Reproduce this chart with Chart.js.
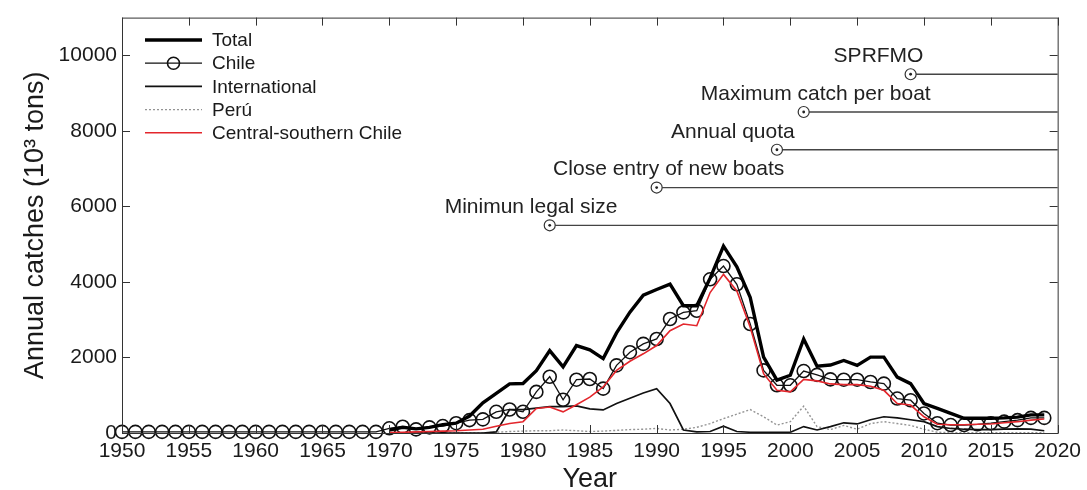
<!DOCTYPE html>
<html><head><meta charset="utf-8">
<script src="https://cdn.jsdelivr.net/npm/chart.js@4.4.1/dist/chart.umd.min.js"></script>
<style>html,body{margin:0;padding:0;background:#fff;}canvas{display:block;}</style>
</head><body>
<canvas id="c" width="1087" height="490"></canvas>
<script>
const years = [1950,1951,1952,1953,1954,1955,1956,1957,1958,1959,
  1960,1961,1962,1963,1964,1965,1966,1967,1968,1969,
  1970,1971,1972,1973,1974,1975,1976,1977,1978,1979,
  1980,1981,1982,1983,1984,1985,1986,1987,1988,1989,
  1990,1991,1992,1993,1994,1995,1996,1997,1998,1999,
  2000,2001,2002,2003,2004,2005,2006,2007,2008,2009,
  2010,2011,2012,2013,2014,2015,2016,2017,2018,2019];

const N20 = [null,null,null,null,null,null,null,null,null,null,null,null,null,null,null,null,null,null,null,null];

const totalCatch = N20.concat([80,150,110,150,220,260,450,800,1050,1300,
  1310,1650,2180,1750,2316,2200,1970,2650,3200,3650,
  3800,3940,3370,3370,4100,4950,4400,3590,2010,1400,
  1530,2490,1770,1800,1920,1790,2008,2008,1480,1307,
  780,650,518,390,390,390,400,420,480,480]);

const chileCatch = [30,30,30,30,30,30,30,30,30,30,30,30,30,30,30,30,30,30,30,30,
  124,167,96,150,184,260,342,360,561,623,
  561,1088,1490,880,1412,1430,1175,1790,2140,2360,
  2490,3018,3193,3237,4070,4421,3939,2886,1658,1263,
  1263,1640,1540,1420,1412,1412,1351,1307,912,868,
  518,260,210,210,230,260,300,340,400,400];

const internationalCatch = N20.concat([0,0,0,0,0,0,0,0,30,620,
  620,660,700,700,720,640,610,780,920,1060,
  1175,780,80,30,40,180,40,20,20,20,
  20,170,80,170,270,240,350,430,400,350,
  300,170,120,100,90,90,100,110,100,60]);

const peruCatch = N20.concat([0,0,0,0,0,0,0,0,20,40,
  50,60,60,80,60,40,50,70,90,100,
  120,80,100,150,250,380,500,620,430,210,
  300,710,170,90,200,100,250,300,250,200,
  100,20,10,10,10,10,10,10,10,10]);

const centralSouthCatch = N20.concat([10,20,30,40,50,60,80,100,180,250,
  300,650,690,560,750,950,1219,1658,1900,2097,
  2316,2710,2886,2840,3720,4200,3763,2800,1570,1130,
  1090,1420,1380,1300,1280,1280,1240,1130,780,740,
  430,230,220,220,230,240,270,300,340,370]);

const eventLabels = ['Minimun legal size','Close entry of new boats','Annual quota','Maximum catch per boat','SPRFMO'];
const eventYears = [1982,1990,1999,2001,2009];
const eventLevels = [5500,6500,7500,8500,9500];
const eventLabelYears = [1980.6,1990.9,1995.7,2001.9,2006.6];

const xTicks = [1950,1955,1960,1965,1970,1975,1980,1985,1990,1995,2000,2005,2010,2015,2020];
const yTicks = [0,2000,4000,6000,8000,10000];

const seriesNames = ['Total','Chile','International','Perú','Central-southern Chile'];

const FONT = "'Liberation Sans', Arial, Helvetica, sans-serif";
const RED = '#e3262c';
const GRAY = '#949494';

function pts(vals){ return years.map((yr,i)=>({x:yr,y:vals[i]})); }

const datasets = [
  {label:seriesNames[4], data:pts(centralSouthCatch), borderColor:RED, borderWidth:1.6, pointRadius:0, order:1},
  {label:seriesNames[0], data:pts(totalCatch), borderColor:'#000', borderWidth:3.4, pointRadius:0, order:2},
  {label:seriesNames[1], data:pts(chileCatch), borderColor:'#111', borderWidth:1.3, pointRadius:6.5,
    pointStyle:'circle', pointBorderColor:'#111', pointBackgroundColor:'rgba(0,0,0,0)', pointBorderWidth:1.6, clip:false, order:3},
  {label:seriesNames[2], data:pts(internationalCatch), borderColor:'#111', borderWidth:1.7, pointRadius:0, order:4},
  {label:seriesNames[3], data:pts(peruCatch), borderColor:GRAY, borderWidth:1.4, borderDash:[2,2], pointRadius:0, order:5}
];
eventYears.forEach((yr,i)=>{
  datasets.push({label:'event'+i, data:[{x:yr,y:eventLevels[i]},{x:2020,y:eventLevels[i]}],
    borderColor:'#444', borderWidth:1.3, pointRadius:(c)=>c.dataIndex===0?5.5:0,
    pointBorderColor:'#333', pointBackgroundColor:'#fff', pointBorderWidth:1.2, clip:false, order:0});
});

const framePlugin = {
  id:'frame',
  afterDraw(chart){
    const {ctx, chartArea:a, scales:{x,y}} = chart;
    ctx.save();
    ctx.strokeStyle = '#333'; ctx.lineWidth = 1;
    ctx.strokeRect(a.left+0.5, a.top+0.5, a.right-a.left, a.bottom-a.top);
    const L = 8;
    ctx.beginPath();
    xTicks.forEach(v=>{
      const px = Math.round(x.getPixelForValue(v))+0.5;
      ctx.moveTo(px,a.bottom); ctx.lineTo(px,a.bottom-L);
      ctx.moveTo(px,a.top); ctx.lineTo(px,a.top+L);
    });
    yTicks.forEach(v=>{
      const py = Math.round(y.getPixelForValue(v))+0.5;
      ctx.moveTo(a.left,py); ctx.lineTo(a.left+L,py);
      ctx.moveTo(a.right,py); ctx.lineTo(a.right-L,py);
    });
    ctx.stroke();

    ctx.fillStyle = '#222';
    eventYears.forEach((yr,i)=>{
      const px = x.getPixelForValue(yr), py = y.getPixelForValue(eventLevels[i]);
      ctx.beginPath(); ctx.arc(px,py,1.4,0,Math.PI*2); ctx.fill();
    });
    ctx.font = '21px ' + FONT;
    ctx.textAlign = 'center'; ctx.textBaseline = 'middle';
    eventLabels.forEach((t,i)=>{
      const px = x.getPixelForValue(eventLabelYears[i]);
      const py = y.getPixelForValue(eventLevels[i]) - 18;
      ctx.fillText(t, px, py);
    });

    const lx0 = 145, lx1 = 202, tx = 212, ty0 = 40, dy = 23.2;
    ctx.font = '19px ' + FONT; ctx.textAlign = 'left'; ctx.textBaseline = 'middle';
    const styles = [
      {c:'#000', w:3.4},
      {c:'#111', w:1.3, marker:true},
      {c:'#111', w:1.7},
      {c:GRAY, w:1.4, dash:[2,2]},
      {c:RED, w:1.6}
    ];
    seriesNames.forEach((name,i)=>{
      const yy = ty0 + i*dy, s = styles[i];
      ctx.save();
      ctx.strokeStyle = s.c; ctx.lineWidth = s.w; ctx.setLineDash(s.dash||[]);
      ctx.beginPath(); ctx.moveTo(lx0,yy); ctx.lineTo(lx1,yy); ctx.stroke();
      if (s.marker){
        ctx.setLineDash([]); ctx.lineWidth = 1.6;
        ctx.beginPath(); ctx.arc((lx0+lx1)/2, yy, 6, 0, Math.PI*2); ctx.stroke();
      }
      ctx.restore();
      ctx.fillStyle = '#1a1a1a';
      ctx.fillText(name, tx, yy+1);
    });
    ctx.restore();
  }
};

new Chart(document.getElementById('c'), {
  type:'line',
  data:{datasets},
  options:{
    responsive:false, animation:false,
    layout:{padding:{left:0,right:27,top:14,bottom:0}},
    plugins:{legend:{display:false}, tooltip:{enabled:false}},
    elements:{line:{tension:0}},
    scales:{
      x:{type:'linear', min:1950, max:2020,
        afterBuildTicks:(s)=>{ s.ticks = xTicks.map(v=>({value:v})); },
        afterFit:(s)=>{ s.height = 57; },
        grid:{display:false, drawTicks:false}, border:{display:false},
        ticks:{font:{family:FONT,size:21}, color:'#1a1a1a', padding:6, maxRotation:0, autoSkip:false, callback:(v)=>String(v)},
        title:{display:true, text:'Year', font:{family:FONT,size:27}, color:'#1a1a1a', padding:{top:0,bottom:-6}}
      },
      y:{type:'linear', min:0, max:11000,
        afterBuildTicks:(s)=>{ s.ticks = yTicks.map(v=>({value:v})); },
        afterFit:(s)=>{ s.width = 122; },
        grid:{display:false, drawTicks:false}, border:{display:false},
        ticks:{font:{family:FONT,size:21}, color:'#1a1a1a', padding:5, callback:(v)=>String(v)},
        title:{display:true, text:'Annual catches (10³ tons)', font:{family:FONT,size:27}, color:'#1a1a1a', padding:{top:19,bottom:0}}
      }
    }
  },
  plugins:[framePlugin]
});
</script>
</body></html>
